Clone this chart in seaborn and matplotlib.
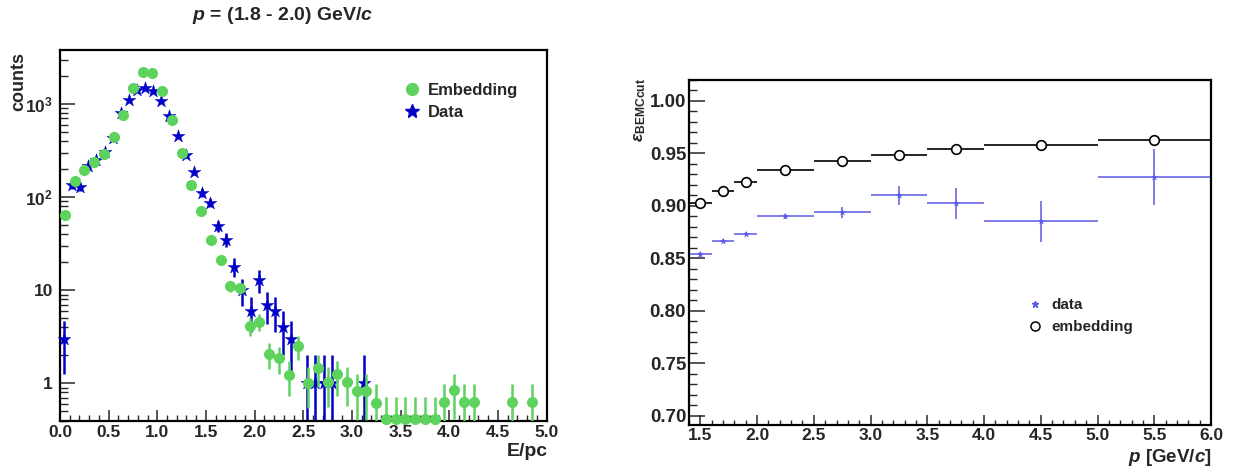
import numpy as np
import pandas as pd
import matplotlib
matplotlib.use('Agg')
import matplotlib.pyplot as plt
import seaborn as sns
from matplotlib.ticker import MultipleLocator, FixedLocator, FixedFormatter, LogLocator, NullFormatter
from matplotlib.lines import Line2D

# ---------------- data: left panel (E/pc distribution) ----------------
emb_bin_width = 0.1
emb_counts = [64, 150, 195, 236, 290, 439, 762, 1475, 2208, 2172,
              1390, 673, 299, 136, 71, 34.5, 21, 11.2, 10.6, 4.17,
              4.6, 2.09, 1.87, 1.24, 2.5, 1.02, 1.46, 1.03, 1.25, 1.04,
              0.83, 0.83, 0.62, 0.42, 0.42, 0.42, 0.42, 0.42, 0.42, 0.63,
              0.84, 0.63, 0.63, 0, 0, 0, 0.63, 0, 0.63, 0]
emb_err = [3.6, 5.6, 6.4, 7.0, 7.8, 9.6, 12.6, 17.5, 21.4, 21.3,
           17.0, 11.8, 7.9, 5.3, 3.8, 2.7, 2.1, 1.5, 1.5, 0.93,
           0.98, 0.66, 0.62, 0.51, 0.72, 0.47, 0.55, 0.47, 0.51, 0.47,
           0.42, 0.42, 0.36, 0.29, 0.29, 0.29, 0.29, 0.29, 0.29, 0.36,
           0.42, 0.36, 0.36, 0, 0, 0, 0.36, 0, 0.36, 0]

data_bin_width = 1.0 / 12.0
data_counts = [3, 135, 129, 215, 250, 307, 430, 800, 1105, 1414,
               1497, 1380, 1077, 745, 453, 283, 187, 111, 87, 49,
               35, 18, 10, 6, 13, 7, 6, 4, 3, 0,
               1, 1, 1, 1, 0, 0, 0, 1]
data_err = [1.73, 11.6, 11.4, 14.7, 15.8, 17.5, 20.7, 28.3, 33.2, 37.6,
            38.7, 37.1, 32.8, 27.3, 21.3, 16.8, 13.7, 10.5, 9.3, 7.0,
            5.9, 4.2, 3.2, 2.4, 3.6, 2.6, 2.4, 2.0, 1.7, 0,
            1, 1, 1, 1, 0, 0, 0, 1]

left_title = r'$p$ = (1.8 - 2.0) GeV/$c$'
left_xticks = [0.0, 0.5, 1.0, 1.5, 2.0, 2.5, 3.0, 3.5, 4.0, 4.5, 5.0]
left_yticks = [1, 10, 100, 1000]
left_yticklabels = ['1', '10', r'$10^{2}$', r'$10^{3}$']

# ---------------- data: right panel (efficiency vs p) ----------------
p_center = [1.5, 1.7, 1.9, 2.25, 2.75, 3.25, 3.75, 4.5, 5.5]
p_halfwidth = [0.1, 0.1, 0.1, 0.25, 0.25, 0.25, 0.25, 0.5, 0.5]
emb_eff = [0.9026, 0.9144, 0.923, 0.934, 0.9426, 0.949, 0.954, 0.958, 0.9625]
emb_eff_err = [0.0005, 0.0005, 0.0005, 0.0005, 0.0005, 0.0005, 0.0005, 0.0005, 0.0005]
data_eff = [0.8538, 0.8666, 0.873, 0.890, 0.894, 0.9103, 0.9026, 0.8853, 0.9276]
data_eff_err = [0.002, 0.002, 0.002, 0.002, 0.005, 0.009, 0.0146, 0.0194, 0.027]
right_yticks = [0.70, 0.75, 0.80, 0.85, 0.90, 0.95, 1.00]
right_xticks = [1.5, 2.0, 2.5, 3.0, 3.5, 4.0, 4.5, 5.0, 5.5, 6.0]

GREEN = '#5dd35d'
DBLUE = '#0000c8'
LBLUE = '#5a5ae6'

# ---------------- style ----------------
sns.set_theme(style='ticks')
plt.rcParams['font.family'] = ['Liberation Sans', 'DejaVu Sans']
plt.rcParams['font.weight'] = 'bold'
plt.rcParams['mathtext.fontset'] = 'custom'
plt.rcParams['mathtext.rm'] = 'Liberation Sans:bold'
plt.rcParams['mathtext.it'] = 'Liberation Sans:italic:bold'
plt.rcParams['mathtext.bf'] = 'Liberation Sans:bold'
plt.rcParams['mathtext.sf'] = 'Liberation Sans:bold'
plt.rcParams['axes.linewidth'] = 1.6
plt.rcParams['axes.edgecolor'] = 'black'

W, H = 1239, 466
fig = plt.figure(figsize=(W / 100, H / 100), dpi=100)
fig.patch.set_facecolor('white')


def px_axes(l, t, r, b):
    return fig.add_axes([l / W, 1 - b / H, (r - l) / W, (b - t) / H])


ax1 = px_axes(60, 50, 546.5, 420.5)
ax2 = px_axes(689, 80, 1211, 425)

# ---------------- left panel ----------------
emb_df = pd.DataFrame({'x': (np.arange(len(emb_counts)) + 0.5) * emb_bin_width,
                       'y': emb_counts, 'e': emb_err})
emb_df = emb_df[emb_df['y'] > 0]
dat_df = pd.DataFrame({'x': (np.arange(len(data_counts)) + 0.5) * data_bin_width,
                       'y': data_counts, 'e': data_err})
dat_df = dat_df[dat_df['y'] > 0]

ax1.set_yscale('log')
ax1.errorbar(dat_df['x'], dat_df['y'], yerr=dat_df['e'], fmt='none',
             ecolor=DBLUE, elinewidth=1.8, zorder=2)
sns.scatterplot(data=dat_df, x='x', y='y', marker='*', s=95, color=DBLUE,
                edgecolor=DBLUE, linewidth=0.3, ax=ax1, zorder=3, clip_on=False, legend=False)
ax1.errorbar(emb_df['x'], emb_df['y'], yerr=emb_df['e'], fmt='none',
             ecolor=GREEN, elinewidth=1.8, zorder=4)
sns.scatterplot(data=emb_df, x='x', y='y', marker='o', s=64, color=GREEN,
                edgecolor=GREEN, linewidth=0, ax=ax1, zorder=5, clip_on=False, legend=False)

ax1.set_xlim(0, 5)
ax1.set_ylim(0.4, 3800)
ax1.xaxis.set_major_locator(FixedLocator(left_xticks))
ax1.xaxis.set_major_formatter(FixedFormatter(['%.1f' % v for v in left_xticks]))
ax1.xaxis.set_minor_locator(MultipleLocator(0.1))
ax1.yaxis.set_major_locator(FixedLocator(left_yticks))
ax1.yaxis.set_major_formatter(FixedFormatter(left_yticklabels))
ax1.yaxis.set_minor_locator(LogLocator(base=10, subs=np.arange(2, 10), numticks=20))
ax1.yaxis.set_minor_formatter(NullFormatter())
ax1.tick_params(axis='x', which='major', direction='in', length=8, width=1.1,
                labelsize=12.5, pad=3.5, top=False, bottom=True)
ax1.tick_params(axis='x', which='minor', direction='in', length=4.3, width=1.0, top=False)
ax1.tick_params(axis='y', which='major', direction='in', length=11, width=1.1,
                labelsize=12.5, pad=5, right=False, left=True)
ax1.tick_params(axis='y', which='minor', direction='in', length=5.8, width=1.0, right=False)
for lab in ax1.get_xticklabels() + ax1.get_yticklabels():
    lab.set_fontweight('bold')
ax1.set_xlabel('')
ax1.set_ylabel('')

leg1_handles = [
    Line2D([], [], marker='o', linestyle='none', color=GREEN, markersize=8.5),
    Line2D([], [], marker='*', linestyle='none', color=DBLUE, markersize=10.5),
]
leg1 = ax1.legend(leg1_handles, ['Embedding', 'Data'], loc='upper left',
                  bbox_to_anchor=(0.685, 0.93), frameon=False,
                  prop={'weight': 'bold', 'size': 12}, handletextpad=0.2,
                  labelspacing=0.45, handlelength=1.5, borderaxespad=0)

fig.text(283 / W, 1 - 15 / H, left_title, ha='center', va='center',
         fontsize=14, fontweight='bold')
fig.text(19 / W, 1 - 52 / H, 'counts', rotation=90, ha='center', va='top',
         fontsize=13, fontweight='bold')
fig.text(548 / W, 1 - 451 / H, 'E/pc', ha='right', va='center',
         fontsize=14, fontweight='bold')

# ---------------- right panel ----------------
eff_df = pd.DataFrame({'p': p_center, 'dp': p_halfwidth,
                       'emb': emb_eff, 'emb_e': emb_eff_err,
                       'data': data_eff, 'data_e': data_eff_err})

ax2.errorbar(eff_df['p'], eff_df['data'], xerr=eff_df['dp'], yerr=eff_df['data_e'],
             fmt='none', ecolor=LBLUE, elinewidth=1.1, zorder=2)
sns.scatterplot(data=eff_df, x='p', y='data', marker='*', s=22, color=LBLUE,
                edgecolor=LBLUE, linewidth=0.2, ax=ax2, zorder=3, legend=False)
ax2.errorbar(eff_df['p'], eff_df['emb'], xerr=eff_df['dp'], yerr=eff_df['emb_e'],
             fmt='none', ecolor='black', elinewidth=1.2, zorder=4)
sns.scatterplot(data=eff_df, x='p', y='emb', marker='o', s=48, color='white',
                edgecolor='black', linewidth=1.2, ax=ax2, zorder=5, legend=False)

ax2.set_xlim(1.4, 6.0)
ax2.set_ylim(0.6914, 1.02)
ax2.xaxis.set_major_locator(FixedLocator(right_xticks))
ax2.xaxis.set_major_formatter(FixedFormatter(['%.1f' % v for v in right_xticks]))
ax2.xaxis.set_minor_locator(MultipleLocator(0.1))
ax2.yaxis.set_major_locator(FixedLocator(right_yticks))
ax2.yaxis.set_major_formatter(FixedFormatter(['%.2f' % v for v in right_yticks]))
ax2.yaxis.set_minor_locator(MultipleLocator(0.01))
ax2.tick_params(axis='x', which='major', direction='in', length=7.5, width=1.1,
                labelsize=12.5, pad=2.5, top=False)
ax2.tick_params(axis='x', which='minor', direction='in', length=3.8, width=1.0, top=False)
ax2.tick_params(axis='y', which='major', direction='in', length=11.5, width=1.1,
                labelsize=13.5, pad=2, right=False)
ax2.tick_params(axis='y', which='minor', direction='in', length=5.8, width=1.0, right=False)
for lab in ax2.get_xticklabels() + ax2.get_yticklabels():
    lab.set_fontweight('bold')
ax2.set_xlabel('')
ax2.set_ylabel('')

leg2_handles = [
    Line2D([], [], marker='*', linestyle='none', color=LBLUE, markersize=5),
    Line2D([], [], marker='o', linestyle='none', markerfacecolor='white',
           markeredgecolor='black', markeredgewidth=1.1, markersize=6.5),
]
ax2.legend(leg2_handles, ['data', 'embedding'], loc='upper left',
           bbox_to_anchor=(0.63, 0.385), frameon=False,
           prop={'weight': 'bold', 'size': 11}, handletextpad=0.3,
           labelspacing=0.5, handlelength=1.5, borderaxespad=0)

fig.text(640 / W, 1 - 78 / H, r'$\epsilon_{\mathrm{BEMCcut}}$', rotation=90,
         ha='center', va='top', fontsize=12.5)
fig.text(1212 / W, 1 - 457 / H, r'$p$ [GeV/$c$]', ha='right', va='center',
         fontsize=13.5, fontweight='bold')

fig.savefig('out.png', dpi=100, facecolor='white')
